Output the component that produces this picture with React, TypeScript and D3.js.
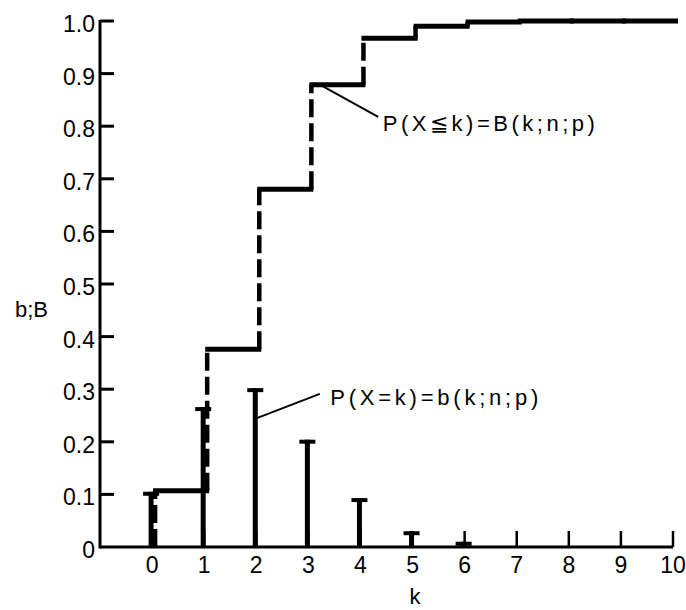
import React from "react";
import * as d3 from "d3";

const ks = [0, 1, 2, 3, 4, 5, 6, 7, 8, 9, 10];
const bValues = [0.105, 0.266, 0.302, 0.204, 0.093, 0.03, 0.01, 0.001, 0, 0, 0];
const BValues = [0.107, 0.376, 0.68, 0.879, 0.967, 0.99, 0.998, 1.0, 1.0, 1.0, 1.0];
const yTicks = [0, 0.1, 0.2, 0.3, 0.4, 0.5, 0.6, 0.7, 0.8, 0.9, 1.0];
const xTicks = [0, 1, 2, 3, 4, 5, 6, 7, 8, 9, 10];

const W = 686;
const H = 610;
const FONT = "'Liberation Sans', Arial, sans-serif";

export default function App() {
  const x = d3.scaleLinear().domain([-1, 10]).range([100, 673]);
  const y = d3.scaleLinear().domain([0, 1]).range([547, 21]);
  const off = 3;

  const horiz: JSX.Element[] = [];
  const verts: JSX.Element[] = [];
  ks.forEach((k, i) => {
    const x0 = x(k) + off;
    const x1 = i < ks.length - 1 ? x(ks[i + 1]) + off : x(k);
    if (i < ks.length - 1) {
      horiz.push(
        <line key={"h" + i} x1={x0 - 2} x2={x1 + 2} y1={y(BValues[i])} y2={y(BValues[i])} stroke="#000" strokeWidth={5} />
      );
    }
    const prev = i === 0 ? 0 : BValues[i - 1];
    verts.push(
      <line key={"v" + i} x1={x0} x2={x0} y1={y(prev)} y2={y(BValues[i])} stroke="#000" strokeWidth={4.5} strokeDasharray="18,6" />
    );
  });

  return (
    <svg width={W} height={H} style={{ position: "absolute", left: 0, top: 0, background: "#fff" }} fontFamily={FONT}>
      <rect x={0} y={0} width={W} height={H} fill="#fff" />
      {/* axes */}
      <line x1={x(-1)} x2={x(-1)} y1={y(0) + 1.5} y2={y(1) - 1} stroke="#000" strokeWidth={3} />
      <line x1={x(-1)} x2={x(10)} y1={y(0)} y2={y(0)} stroke="#000" strokeWidth={3} />
      {yTicks.map((t) => (
        <g key={"yt" + t}>
          {t > 0 && <line x1={x(-1)} x2={x(-1) + 14} y1={y(t)} y2={y(t)} stroke="#000" strokeWidth={3} />}
          <text x={95} y={y(t) + 11} textAnchor="end" fontSize={23}>
            {t === 0 ? "0" : d3.format(".1f")(t)}
          </text>
        </g>
      ))}
      {xTicks.map((t) => (
        <g key={"xt" + t}>
          <line x1={x(t)} x2={x(t)} y1={y(0)} y2={y(0) - 16} stroke="#000" strokeWidth={2.5} />
          <text x={x(t)} y={573} textAnchor="middle" fontSize={23}>
            {t}
          </text>
        </g>
      ))}
      <text x={415} y={604} textAnchor="middle" fontSize={22}>k</text>
      <text x={15} y={317} fontSize={22}>b;B</text>

      {/* b(k) bars */}
      {ks.map((k, i) =>
        bValues[i] > 0.004 ? (
          <g key={"b" + k}>
            <line x1={x(k) - 1} x2={x(k) - 1} y1={y(0)} y2={y(bValues[i])} stroke="#000" strokeWidth={5} />
            <line x1={x(k) - 9} x2={x(k) + 7} y1={y(bValues[i]) + 2} y2={y(bValues[i]) + 2} stroke="#000" strokeWidth={4} />
          </g>
        ) : null
      )}

      {/* B(k) staircase */}
      {horiz}
      {verts}

      {/* annotations */}
      <line x1={x(3.22)} y1={y(BValues[3])} x2={x(4.34)} y2={y(0.8175)} stroke="#000" strokeWidth={2} />
      <text x={x(4.43)} y={y(0.791)} fontSize={22} textLength={212} lengthAdjust="spacing">
        P(X≦k)=B(k;n;p)
      </text>
      <line x1={x(2.01)} y1={y(0.245)} x2={x(3.22)} y2={y(0.291)} stroke="#000" strokeWidth={2} />
      <text x={x(3.42)} y={y(0.27)} fontSize={22} textLength={208} lengthAdjust="spacing">
        P(X=k)=b(k;n;p)
      </text>
    </svg>
  );
}
